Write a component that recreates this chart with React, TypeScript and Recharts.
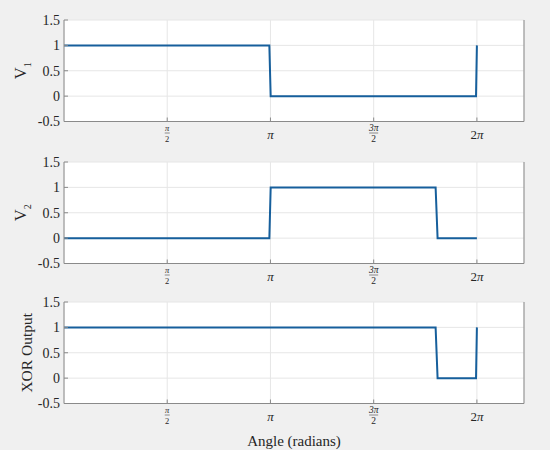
import React from 'react';
import { LineChart, Line, XAxis, YAxis, CartesianGrid } from 'recharts';

// ---- data ----
const v1Angle = [0, 3.125, 3.145, 6.27, 6.2832];
const v1Value = [1, 1, 0, 0, 1];

const v2Angle = [0, 3.125, 3.145, 5.655, 5.685, 6.2832];
const v2Value = [0, 0, 1, 1, 0, 0];

const xorAngle = [0, 5.655, 5.685, 6.27, 6.2832];
const xorValue = [1, 1, 0, 0, 1];

const xTicks = [1.5708, 3.1416, 4.7124, 6.2832];
const xTickLabels = ['π/2', 'π', '3π/2', '2π'];
const xDomain = [0, 7];

const yTicks = [-0.5, 0, 0.5, 1, 1.5];
const yTickLabels = ['-0.5', '0', '0.5', '1', '1.5'];
const yDomain = [-0.5, 1.5];

// ---- style ----
const FONT = "'Liberation Serif', 'Times New Roman', serif";
const TEXT = '#262626';
const BOX = '#8a8a8a';
const GRID = '#e6e6e6';
const LINE = '#165f9c';
const CHART_W = 550;
const CHART_H = 170;
const PLOT_TOP = 20;
const PLOT_H = 101.5;
const LEFT_W = 64;
const RIGHT_W = 26;

const EmptyTick = () => <g />;

const renderXTick = (props: any) => {
  const { x, y, payload } = props;
  const idx = xTicks.findIndex((t) => Math.abs(t - payload.value) < 1e-6);
  const lab = xTickLabels[idx] ?? '';
  if (lab.includes('/')) {
    const [num, den] = lab.split('/');
    const fs = num.length > 1 ? 9.5 : 8.5;
    const w = num.length > 1 ? 9 : 5;
    return (
      <g style={{ fontFamily: FONT }}>
        <text x={x} y={y + 9.5} textAnchor="middle" fontSize={fs} fontStyle="italic" fill={TEXT} style={{ fontFamily: FONT }}>
          {num}
        </text>
        <line x1={x - w / 2} x2={x + w / 2} y1={y + 11.5} y2={y + 11.5} stroke={TEXT} strokeWidth={0.5} />
        <text x={x} y={y + 20} textAnchor="middle" fontSize={fs} fill={TEXT} style={{ fontFamily: FONT }}>
          {den}
        </text>
      </g>
    );
  }
  return (
    <text x={x} y={y + 17} textAnchor="middle" fontSize={13} fill={TEXT} style={{ fontFamily: FONT }}>
      {lab.replace('π', '')}
      <tspan fontStyle="italic">π</tspan>
    </text>
  );
};

const formatY = (v: number) => {
  const idx = yTicks.findIndex((t) => Math.abs(t - v) < 1e-6);
  return yTickLabels[idx] ?? '';
};

type PanelProps = {
  top: number;
  angles: number[];
  values: number[];
  ylabel: React.ReactNode;
  showXLabel?: boolean;
};

function Panel({ top, angles, values, ylabel, showXLabel }: PanelProps) {
  const data = angles.map((a, i) => ({ angle: a, value: values[i] }));
  const xAxisH = CHART_H - PLOT_TOP - PLOT_H;
  const plotBottom = PLOT_TOP + PLOT_H;
  const cy = PLOT_TOP + PLOT_H / 2;
  const cx = LEFT_W + (CHART_W - LEFT_W - RIGHT_W) / 2;
  return (
    <div style={{ position: 'absolute', left: 0, top, width: CHART_W, height: CHART_H }}>
      <LineChart
        width={CHART_W}
        height={CHART_H}
        data={data}
        margin={{ top: PLOT_TOP, right: 0, bottom: 0, left: 0 }}
        style={{ fontFamily: FONT }}
      >
        <CartesianGrid stroke={GRID} fill="#ffffff" strokeWidth={1} />
        <XAxis
          dataKey="angle"
          type="number"
          domain={xDomain}
          ticks={xTicks}
          allowDataOverflow
          height={xAxisH}
          tickSize={-4}
          tickMargin={4}
          tick={renderXTick}
          tickLine={{ stroke: BOX }}
          axisLine={{ stroke: BOX }}
          interval={0}
        />
        <XAxis
          xAxisId="top"
          orientation="top"
          dataKey="angle"
          type="number"
          domain={xDomain}
          ticks={xTicks}
          allowDataOverflow
          height={0}
          tickSize={-4}
          tick={EmptyTick}
          tickLine={{ stroke: BOX }}
          axisLine={{ stroke: BOX }}
        />
        <YAxis
          type="number"
          domain={yDomain}
          ticks={yTicks}
          width={LEFT_W}
          tickSize={-4}
          tickMargin={8}
          tickFormatter={formatY}
          tick={{ fill: TEXT, fontSize: 14, fontFamily: FONT }}
          tickLine={{ stroke: BOX }}
          axisLine={{ stroke: BOX }}
          interval={0}
        />
        <YAxis
          yAxisId="right"
          orientation="right"
          type="number"
          domain={yDomain}
          ticks={yTicks}
          width={RIGHT_W}
          tickSize={-4}
          tick={EmptyTick}
          tickLine={{ stroke: BOX }}
          axisLine={{ stroke: BOX }}
          interval={0}
        />
        <Line
          type="linear"
          dataKey="value"
          stroke={LINE}
          strokeWidth={2}
          dot={false}
          activeDot={false}
          isAnimationActive={false}
        />
        <g>{ylabel && React.isValidElement(ylabel) ? React.cloneElement(ylabel as any, { cy }) : null}</g>
        {showXLabel ? (
          <text
            x={cx}
            y={plotBottom + 42.5}
            textAnchor="middle"
            fontSize={15}
            fill={TEXT}
            style={{ fontFamily: FONT }}
          >
            Angle (radians)
          </text>
        ) : null}
      </LineChart>
    </div>
  );
}

const VLabel = ({ cy, sub }: any) => (
  <text
    transform={`translate(26, ${cy}) rotate(-90)`}
    textAnchor="middle"
    fontSize={16.5}
    fill={TEXT}
    style={{ fontFamily: FONT }}
  >
    V
    <tspan fontSize={10} dy={5}>
      {sub}
    </tspan>
  </text>
);

const TextLabel = ({ cy, text }: any) => (
  <text
    transform={`translate(32, ${cy}) rotate(-90)`}
    textAnchor="middle"
    fontSize={15.5}
    fill={TEXT}
    style={{ fontFamily: FONT }}
  >
    {text}
  </text>
);

export default function App() {
  return (
    <div
      style={{
        position: 'absolute',
        left: 0,
        top: 0,
        width: 550,
        height: 450,
        background: '#f0f0f0',
        overflow: 'hidden',
        fontFamily: FONT,
      }}
    >
      <Panel top={0} angles={v1Angle} values={v1Value} ylabel={<VLabel sub="1" />} />
      <Panel top={142} angles={v2Angle} values={v2Value} ylabel={<VLabel sub="2" />} />
      <Panel
        top={282}
        angles={xorAngle}
        values={xorValue}
        ylabel={<TextLabel text="XOR Output" />}
        showXLabel
      />
    </div>
  );
}
